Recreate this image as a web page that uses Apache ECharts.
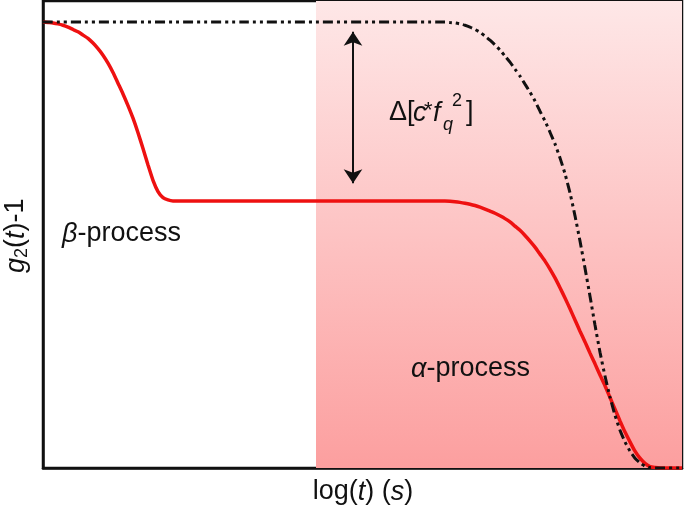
<!DOCTYPE html>
<html>
<head>
<meta charset="utf-8">
<script src="https://cdn.jsdelivr.net/npm/echarts@6/dist/echarts.min.js"></script>
<style>html,body{margin:0;padding:0;background:#fff}#c{width:685px;height:508px}</style>
</head>
<body>
<div id="c"></div>
<script>
// x: log(t) in arbitrary units (0..639), y: g2(t)-1 normalized (0..1)
const redX = [0, 5, 10, 15, 20, 25, 30, 35, 40, 45, 50, 55, 60, 65, 70, 75, 80, 85, 90, 95, 100, 105, 110, 115, 120, 125, 130, 135, 250, 397,
  402, 407, 412, 417, 422, 427, 432, 437, 442, 447, 452, 457, 462, 467, 472, 477, 482, 487, 492, 497, 502, 507, 512, 517, 522, 527, 532, 537, 542, 547,
  552, 557, 562, 567, 572, 577, 582, 587, 592, 597, 602, 607, 612, 617, 639];
const redY = [0.955, 0.954, 0.953, 0.951, 0.948, 0.944, 0.939, 0.934, 0.927, 0.920, 0.910, 0.898, 0.884, 0.867, 0.847, 0.824, 0.801, 0.776, 0.749, 0.718, 0.684, 0.649, 0.616, 0.592, 0.579, 0.574, 0.572, 0.572, 0.572, 0.572,
  0.5718, 0.5712, 0.5702, 0.5688, 0.567, 0.5648, 0.562, 0.5585, 0.5545, 0.550, 0.5455, 0.540, 0.534, 0.527, 0.518, 0.509, 0.498, 0.486, 0.473, 0.458, 0.443, 0.426, 0.407, 0.386, 0.364, 0.341, 0.317, 0.293, 0.270, 0.246,
  0.223, 0.199, 0.176, 0.151, 0.126, 0.101, 0.077, 0.056, 0.036, 0.021, 0.010, 0.003, 0.001, 0, 0];
const blackX = [0, 200, 397, 402, 407, 412, 417, 422, 427, 432, 437, 442, 447, 452, 457, 462, 467, 472, 477, 482, 487, 492, 497, 502, 507, 512, 517, 522, 527,
  532, 537, 542, 547, 552, 557, 562, 567, 572, 577, 582, 587, 592, 597, 602, 607, 612, 639];
const blackY = [0.955, 0.955, 0.955, 0.955, 0.954, 0.953, 0.951, 0.948, 0.944, 0.939, 0.933, 0.925, 0.916, 0.906, 0.895, 0.882, 0.869, 0.854, 0.839, 0.822, 0.805, 0.786, 0.764, 0.743, 0.719, 0.694, 0.664, 0.630, 0.589,
  0.540, 0.486, 0.428, 0.368, 0.306, 0.248, 0.197, 0.152, 0.113, 0.081, 0.056, 0.036, 0.021, 0.011, 0.004, 0.001, 0, 0];
const shadeRange = [273, 639];
const arrowX = 310;
const arrowY = [0.934, 0.610];

const zip = (xs, ys) => xs.map((x, i) => [x, ys[i]]);
const FONT = '"Liberation Sans", Arial, Helvetica, sans-serif';

function txt(x, y, s, opt) {
  opt = opt || {};
  return {
    type: 'text', x: x, y: y, silent: true, z: 100,
    style: {
      text: s, fill: '#111', fontFamily: FONT,
      fontSize: opt.size || 27, fontStyle: opt.italic ? 'italic' : 'normal',
      align: opt.align || 'left', verticalAlign: 'middle'
    }
  };
}
function rich(x, y, s, align) {
  return {
    type: 'text', x: x, y: y, silent: true, z: 100,
    style: {
      text: s, fill: '#111', fontFamily: FONT, fontSize: 27,
      align: align || 'left', verticalAlign: 'middle',
      rich: {
        n: {fontFamily: FONT, fontSize: 27, fill: '#111'},
        i: {fontFamily: FONT, fontSize: 27, fontStyle: 'italic', fill: '#111'}
      }
    }
  };
}

const chart = echarts.init(document.getElementById('c'), null, {renderer: 'canvas'});
chart.setOption({
  animation: false,
  backgroundColor: '#fff',
  grid: {left: 43, right: 3, top: 1, bottom: 40, show: true, borderColor: '#111', borderWidth: 2.5, backgroundColor: 'transparent'},
  xAxis: {
    type: 'value', min: 0, max: 639,
    axisLine: {show: true, lineStyle: {color: '#111', width: 2.5}},
    axisTick: {show: false}, axisLabel: {show: false}, splitLine: {show: false}
  },
  yAxis: {
    type: 'value', min: 0, max: 1,
    axisLine: {show: true, lineStyle: {color: '#111', width: 2.5}},
    axisTick: {show: false}, axisLabel: {show: false}, splitLine: {show: false}
  },
  series: [
    {
      type: 'line', name: 'alpha', data: zip(redX, redY), showSymbol: false, smooth: 0.2,
      lineStyle: {color: '#ee1111', width: 3.5}, z: 3,
      markArea: {
        silent: true,
        itemStyle: {
          opacity: 1,
          color: new echarts.graphic.LinearGradient(0, 0, 0, 1, [
            {offset: 0, color: '#fee7e7'},
            {offset: 1, color: '#fc9f9f'}
          ])
        },
        data: [[{xAxis: shadeRange[0]}, {xAxis: shadeRange[1]}]]
      }
    },
    {
      type: 'line', name: 'plateau', data: zip(blackX, blackY), showSymbol: false, smooth: 0.2,
      lineStyle: {color: '#111', width: 3, type: [10, 4, 3, 4, 3, 4]}, z: 4,
      markLine: {
        silent: true, symbol: ['arrow', 'arrow'], symbolSize: 14,
        label: {show: false},
        lineStyle: {color: '#111', width: 2, type: 'solid'},
        data: [[{coord: [arrowX, arrowY[0]]}, {coord: [arrowX, arrowY[1]]}]]
      }
    }
  ],
  graphic: [
    rich(62, 234, '{i|β}{n|-process}'),
    rich(411, 369, '{i|α}{n|-process}'),
    // Delta[c* f_q^2]
    txt(389, 113, 'Δ['),
    txt(413, 113, 'c', {italic: true}),
    txt(424, 111, '*', {size: 22}),
    txt(433, 113, 'f', {italic: true}),
    txt(443, 125, 'q', {size: 18, italic: true}),
    txt(452, 101, '2', {size: 18}),
    txt(466, 113, ']'),
    // x axis title
    rich(363, 492, '{n|log(}{i|t}{n|) (}{i|s}{n|)}', 'center'),
    // y axis title (rotated)
    {
      type: 'group', x: 16, y: 236, rotation: Math.PI / 2, silent: true, z: 100,
      children: [
        txt(-37, 0, 'g', {italic: true}),
        txt(-22, 6, '2', {size: 18}),
        txt(-12, 0, '('),
        txt(-3, 0, 't', {italic: true}),
        txt(4.5, 0, ')-1')
      ]
    }
  ]
});
</script>
</body>
</html>
